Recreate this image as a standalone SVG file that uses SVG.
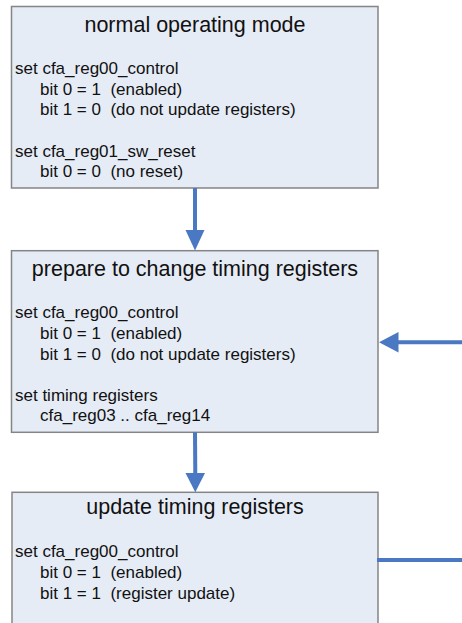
<svg xmlns="http://www.w3.org/2000/svg" width="462" height="623" viewBox="0 0 462 623">
  <style>
    .box { fill: #e6ecf6; stroke: #858585; stroke-width: 1.5; }
    .title { font-family: "Liberation Sans", Arial, sans-serif; font-size: 21.5px; fill: #111; text-anchor: middle; }
    .body { font-family: "Liberation Sans", Arial, sans-serif; font-size: 17px; fill: #111; white-space: pre; }
    .conn { stroke: #4a78c2; stroke-width: 4; fill: none; }
    .head { fill: #4a78c2; }
  </style>

  <!-- state: normal operating mode -->
  <g id="normal-mode">
    <rect class="box" x="11.5" y="6.5" width="366.5" height="181.5"/>
    <text class="title" x="195" y="31.5">normal operating mode</text>
    <text class="body" x="15" y="74">set cfa_reg00_control</text>
    <text class="body" x="40" y="94.7" xml:space="preserve">bit 0 = 1  (enabled)</text>
    <text class="body" x="40" y="115.3" xml:space="preserve">bit 1 = 0  (do not update registers)</text>
    <text class="body" x="15" y="156.7">set cfa_reg01_sw_reset</text>
    <text class="body" x="40" y="177.3" xml:space="preserve">bit 0 = 0  (no reset)</text>
  </g>

  <!-- state: prepare timing change -->
  <g id="prepare-timing">
    <rect class="box" x="11.5" y="250.7" width="366.5" height="181.6"/>
    <text class="title" x="195" y="275.7">prepare to change timing registers</text>
    <text class="body" x="15" y="318.3">set cfa_reg00_control</text>
    <text class="body" x="40" y="339" xml:space="preserve">bit 0 = 1  (enabled)</text>
    <text class="body" x="40" y="359.6" xml:space="preserve">bit 1 = 0  (do not update registers)</text>
    <text class="body" x="15" y="400.7">set timing registers</text>
    <text class="body" x="40" y="421.3">cfa_reg03 .. cfa_reg14</text>
  </g>

  <!-- state: update timing registers -->
  <g id="update-timing">
    <rect class="box" x="12" y="492.3" width="366" height="140"/>
    <text class="title" x="195" y="513.5">update timing registers</text>
    <text class="body" x="15" y="557.3">set cfa_reg00_control</text>
    <text class="body" x="40" y="578" xml:space="preserve">bit 0 = 1  (enabled)</text>
    <text class="body" x="40" y="598.6" xml:space="preserve">bit 1 = 1  (register update)</text>
  </g>

  <!-- transitions -->
  <g id="connectors">
    <line class="conn" x1="195" y1="188" x2="195" y2="232"/>
    <polygon class="head" points="185.5,230 204.5,230 195,250.5"/>

    <line class="conn" x1="195" y1="432.3" x2="195.3" y2="475"/>
    <polygon class="head" points="185.5,473 205,473 195.3,492.3"/>

    <line class="conn" x1="462" y1="342.3" x2="396" y2="342.3"/>
    <polygon class="head" points="398.5,332 398.5,352.5 379,342.3"/>

    <line class="conn" x1="377" y1="560" x2="462" y2="560"/>
  </g>
</svg>
